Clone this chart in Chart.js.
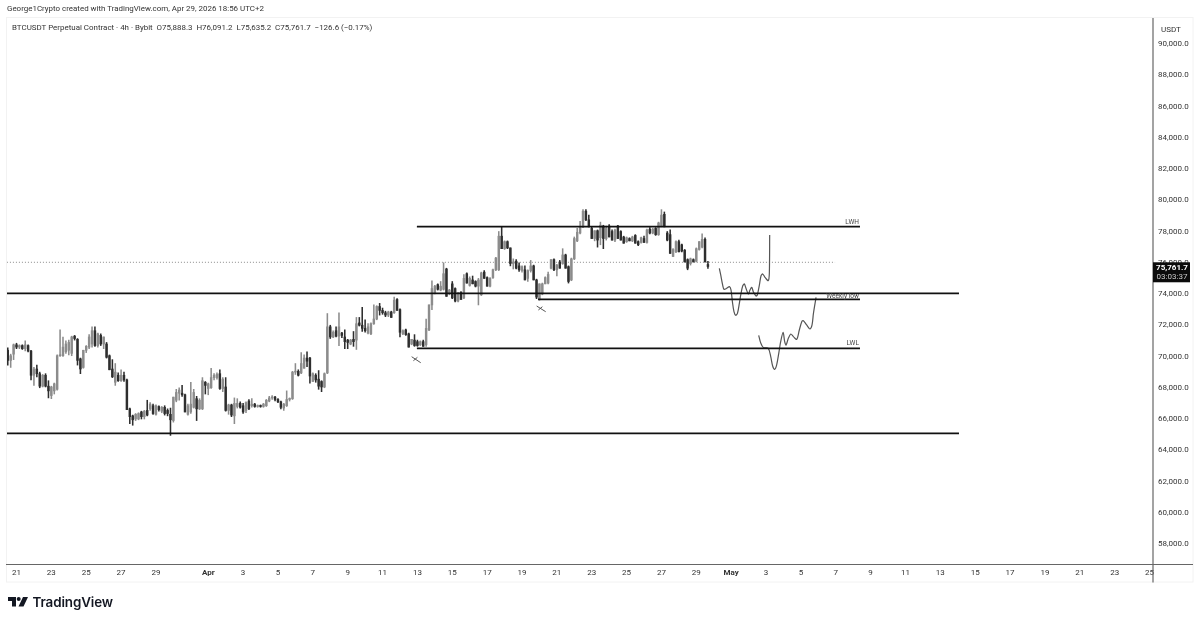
<!DOCTYPE html>
<html>
<head>
<meta charset="utf-8">
<title>BTCUSDT</title>
<script src="https://cdn.jsdelivr.net/npm/chart.js@4"></script>
<style>
html,body{margin:0;padding:0;background:#fff;width:1200px;height:622px;overflow:hidden}
#wrap{position:relative;width:1200px;height:622px;filter:blur(0.35px)}
canvas{position:absolute;left:0;top:0}
.t{position:absolute;white-space:pre;font-family:Roboto,sans-serif;color:#333}
#credit{left:7px;top:4px;font-size:7.95px;line-height:10px}
#ohlc{left:12px;top:22px;font-size:7.95px;line-height:11px}
#brand{left:32.5px;top:592px;font-size:13.4px;line-height:20px;font-family:Inter,sans-serif;font-weight:600;color:#131722;letter-spacing:-.1px}
#logo{position:absolute;left:8px;top:597px}
</style>
</head>
<body>
<div id="wrap">
<canvas id="c" width="1200" height="622"></canvas>
<div class="t" id="credit">George1Crypto created with TradingView.com, Apr 29, 2026 18:56 UTC+2</div>
<div class="t" id="ohlc">BTCUSDT Perpetual Contract · 4h · Bybit  O75,888.3  H76,091.2  L75,635.2  C75,761.7  −126.6 (−0.17%)</div>
<svg id="logo" width="21" height="10" viewBox="0 0 21 10"><path d="M0 0H8V9.5H4V4H0Z M15 0H20L15.5 9.5H10.5Z" fill="#131722"/><circle cx="10.7" cy="2" r="2" fill="#131722"/></svg>
<div class="t" id="brand">TradingView</div>
</div>
<script>
const opens=[
70400,69750,70150,70750,70600,70700,70500,70700,70350,68800,
69200,68900,68100,68800,68100,67500,67800,67900,70050,70050,
70300,70400,70200,71300,71100,69850,69300,70400,70600,70800,
71650,70700,71350,70800,70800,70050,69200,68350,68800,68450,
68800,68500,66650,66200,66000,66000,66450,66150,66550,66650,
66850,66300,66800,66500,66750,66550,66300,65900,67200,67650,
67650,67550,66300,66450,66750,67300,66650,66650,68350,67950,
68000,68650,68650,68900,67950,68050,66550,66900,66200,66800,
67000,66850,66550,67150,66850,66950,66800,66850,66800,66850,
67150,67350,67400,67250,67100,66700,66850,67250,67300,69000,
69050,68950,69250,69900,69900,68400,68800,68550,68400,68050,
68950,71900,71250,71650,71300,71500,71250,71050,70800,71100,
71050,72150,72000,71800,71500,71450,72100,72400,73200,72950,
72800,72650,72850,72800,73650,73000,71450,71700,71450,70800,
71050,70950,70750,70950,70750,71700,73300,74050,74600,74250,
74300,75600,74050,74650,74350,73550,74100,73750,75300,74550,
74900,74800,74500,73950,75400,75050,74500,75050,75550,75550,
77700,76900,77350,76950,75950,76100,75800,75500,75550,75000,
75500,75800,74900,73650,74000,74650,74700,75650,76200,75550,
76050,75950,76500,75750,74900,76250,77400,77900,78300,79300,
78750,78200,77550,78050,77600,78350,77550,78350,78000,77450,
78350,78000,77650,77350,77550,77400,77750,77350,77300,77550,
77300,78150,77900,78200,77800,78350,79100,77900,77800,76400,
76700,77350,77150,76800,76200,75950,76200,76100,76850,77000,
77500,75888.3];
const highs=[
70550,70150,70800,70850,70750,70750,71000,70750,70400,69300,
69450,69000,68850,68900,68450,68100,68300,70100,71700,71250,
71000,71050,71300,71350,71150,69900,70400,70700,71400,71900,
71900,71500,71450,71250,70900,70100,69800,69550,68950,69150,
69000,68550,66700,66250,66350,66400,66500,66550,67200,67050,
66950,66900,66850,66800,66850,66650,66700,67400,67900,68000,
68150,67600,66950,68350,67900,67450,67300,68650,68400,68300,
69250,68900,68950,69150,68650,68650,66950,66950,67350,67300,
67100,67000,67100,67250,67300,67000,66900,66900,67000,67250,
67450,67500,67450,67300,67150,67000,67800,67350,69050,69550,
69150,70250,70100,70300,69950,68950,68900,69100,68450,68950,
72750,72000,71650,71900,72800,71550,71700,71100,71100,71600,
72500,72500,73150,72350,72100,72150,73300,73250,73400,73100,
72900,72900,72900,73800,73700,73050,71700,71750,71500,71100,
71400,71050,71000,71050,72400,73300,74850,74550,74650,74800,
76000,75650,74300,74800,74400,74100,74150,75250,75350,75100,
75150,74850,75000,75400,75500,75100,75050,75600,76350,78000,
78300,77400,77400,76950,76250,76200,76000,75800,75800,75550,
76150,75850,74950,74650,74700,75100,75400,76200,76250,75900,
76150,76900,76550,75800,76300,77650,78200,78650,79400,79400,
79050,78300,78050,78100,78600,78400,78350,78450,78100,78150,
78400,78050,77700,77650,77600,77700,77800,77400,77650,77700,
78150,78250,78200,78250,78600,79400,79250,78000,78100,76900,
77400,77450,77200,76850,76250,76300,76250,76950,77350,77850,
77600,76091.2];
const lows=[
69450,69300,69800,70500,70500,70450,70350,70300,68500,68150,
68700,68000,68050,68050,67350,67300,67600,67850,70000,70000,
70200,70100,70050,71050,69450,68900,69250,70250,70500,70600,
70650,70600,70700,70500,69900,69150,68650,68150,68400,68400,
68400,66600,65700,65600,65900,65950,66000,66000,66200,66550,
66300,66250,66500,66400,66250,66200,64950,65800,67100,67200,
67450,66450,66250,66350,66700,65900,66600,66600,67600,67550,
67950,68500,68550,67900,67750,66500,66300,66150,65700,66700,
66700,66350,66400,66600,66750,66750,66750,66750,66750,66800,
67100,67250,67150,67050,66650,66550,66800,67150,67250,68850,
68750,68900,69250,69350,68300,68400,68350,67900,67750,68000,
68900,71150,71200,71250,70700,71200,70500,70500,70750,70650,
70450,71950,71600,71550,71450,71400,72050,72350,72650,72700,
72550,72550,72500,72750,72950,71250,71400,71350,70600,70750,
70650,70650,70700,70650,70650,71650,73000,74000,74250,74200,
74250,73850,73950,73700,73500,73500,73650,73700,74700,74500,
74650,74450,73300,73900,75000,74500,74450,75000,75500,75500,
76900,76850,76900,75800,75600,75600,75450,75400,74900,74800,
75400,74900,73700,73600,73950,74650,74650,75600,75500,75150,
75650,75900,75650,74700,74850,76200,77350,77850,78250,78700,
78300,77550,77400,77000,77150,76900,77450,77650,77450,77350,
77550,77450,77250,77300,77400,77350,77250,77100,77250,77300,
77250,77850,77850,77750,77750,78300,78300,77400,76600,76400,
76650,76700,76700,76050,75550,75850,76050,76050,76800,76950,
76050,75635.2];
const closes=[
69750,70050,70750,70600,70700,70500,70750,70350,68800,69200,
68900,68100,68800,68100,67800,68050,68250,70050,70100,70600,
70800,70900,71250,71150,69750,69200,70400,70650,71250,71650,
70700,71450,70800,71250,69950,69150,68700,69000,68450,68800,
68500,66600,66150,65950,66300,66350,66150,66500,66250,66950,
66350,66850,66600,66750,66350,66350,65950,67400,67700,67850,
67550,66450,66850,66950,67700,66650,67200,68450,68150,68250,
68650,68800,68850,67950,68550,66550,66900,66250,67000,67000,
66750,66450,67050,66650,66950,66800,66850,66800,66950,67200,
67350,67400,67250,67100,66750,66950,67250,67300,69000,69050,
68800,69550,69900,69700,68750,68900,68500,68100,68050,68900,
71900,71250,71550,71300,71900,71350,70950,70900,71050,70950,
72100,72000,71800,71650,71900,72100,72400,73200,72950,72800,
72650,72850,72500,73600,72950,71550,71650,71400,70600,71100,
70700,70700,70950,70650,71800,73300,74350,74500,74300,74500,
75300,73850,74250,73750,73550,74050,73650,75000,74700,75000,
74650,74500,74900,75350,75000,74500,75000,75550,76300,77700,
76900,77350,76950,75950,76050,75650,75550,75750,74900,75500,
75800,74900,73800,74650,74650,75050,75250,76200,75550,75850,
75650,76500,75650,74800,76250,77550,77950,78300,79300,78750,
78300,77550,78050,77450,78400,77550,78200,77650,77450,78100,
77550,77450,77250,77600,77400,77650,77250,77150,77600,77300,
78100,77900,78150,77800,78550,79050,78300,77450,76600,76850,
77350,76700,76750,76050,75650,76250,76050,76900,77350,77500,
76050,75761.7];

// x axis unit: days since Mar 21 00:00
const lastCandleDay=39.667;
const dateTickDays=[0,2,4,6,8,11,13,15,17,19,21,23,25,27,29,31,33,35,37,39,41,43,45,47,49,51,53,55,57,59,61,63,65];
const dateTickLabels=['21','23','25','27','29','Apr','3','5','7','9','11','13','15','17','19','21','23','25','27','29','May','3','5','7','9','11','13','15','17','19','21','23','25'];
const priceTicks=[58000,60000,62000,64000,66000,68000,70000,72000,74000,76000,78000,80000,82000,84000,86000,88000,90000];

const levelNames=['Upper support','Range low','LWH','Weekly low','LWL'];
const levelPrices=[74040,65085,78310,73660,70525];
const levelFrom=[-0.55,-0.55,22.97,29.92,22.97];
const levelTo=[54.07,54.07,48.39,48.39,48.39];
const lastPriceLine=[76030,-0.55,46.96];
const lastPriceText='75,761.7';
const countdownText='03:03:37';

const sketchADays=[40.32,40.40,40.51,40.59,40.74,40.90,40.99,41.07,41.16,41.26,41.36,41.47,41.55,41.66,41.76,41.85,41.99,42.08,42.18,42.27,42.43,42.50,42.62,42.71,42.81,42.94,43.13,43.19,43.21];
const sketchAPrices=[75643,75217,74577,74300,74363,74470,74257,73510,72870,72635,72763,73404,73937,74513,74641,74363,74001,74257,74427,74150,73873,73937,74577,75153,75281,75067,74854,75323,77776];
const sketchBDays=[42.58,42.69,42.85,43.13,43.27,43.38,43.50,43.61,43.73,43.84,43.98,44.07,44.15,44.28,44.42,44.57,44.76,44.91,45.05,45.14,45.33,45.52,45.64,45.72,45.87];
const sketchBPrices=[71356,70887,70567,70524,69991,69394,69180,69458,70204,70951,71548,70951,70737,71164,71441,71271,71100,71697,72231,72295,72017,71761,72017,72763,73788];
const crossStrokes=[
  [[22.67,69987],[23.19,69603]],
  [[22.77,69731],[23.00,69949]],
  [[29.84,73232],[30.36,72867]],
  [[29.94,72976],[30.17,73187]]
];

const UP='#8c8c8c',DOWN='#2e2e2e';
const n=closes.length;
const candleDay=i=>lastCandleDay-(n-1-i)/6;
const candleColors=closes.map((c,i)=>c>=opens[i]?UP:DOWN);
const wicks=lows.map((l,i)=>({x:candleDay(i),y:[l,highs[i]]}));
const bodies=opens.map((o,i)=>({x:candleDay(i),y:[o,closes[i]]}));

const lineDs=(data,color,width,extra)=>Object.assign({type:'line',data,borderColor:color,borderWidth:width,pointRadius:0,tension:0,order:0,fill:false},extra||{});
const datasets=[
 {type:'bar',label:'wicks',data:wicks,backgroundColor:candleColors,barThickness:0.9,grouped:false,order:3},
 {type:'bar',label:'bodies',data:bodies,backgroundColor:candleColors,barThickness:1.8,minBarLength:1,grouped:false,order:2},
 lineDs([{x:lastPriceLine[1],y:lastPriceLine[0]},{x:lastPriceLine[2],y:lastPriceLine[0]}],'#8a8a8a',1,{borderDash:[1,2],order:4})
];
levelPrices.forEach((p,i)=>datasets.push(lineDs([{x:levelFrom[i],y:p},{x:levelTo[i],y:p}],'#111',1.8,{label:levelNames[i]})));
datasets.push(lineDs(sketchADays.map((d,i)=>({x:d,y:sketchAPrices[i]})),'#555',1.2,{tension:0.3}));
datasets.push(lineDs(sketchBDays.map((d,i)=>({x:d,y:sketchBPrices[i]})),'#555',1.2,{tension:0.3}));
crossStrokes.forEach(s=>datasets.push(lineDs(s.map(p=>({x:p[0],y:p[1]})),'#555',1)));

const decorations={
 id:'decorations',
 afterDraw(chart){
  const {ctx,chartArea:a,scales:{x,y}}=chart;
  ctx.save();
  ctx.strokeStyle='#f2f2f2';ctx.lineWidth=1;
  ctx.strokeRect(6.5,a.top-0.5,1186.5,564.5);
  ctx.strokeStyle='#666';ctx.lineWidth=1.2;
  ctx.beginPath();ctx.moveTo(6,a.bottom+0.5);ctx.lineTo(1193,a.bottom+0.5);ctx.stroke();
  ctx.beginPath();ctx.moveTo(a.right,a.top);ctx.lineTo(a.right,582.5);ctx.stroke();
  ctx.fillStyle='#444';ctx.font='6.6px Roboto,sans-serif';ctx.textAlign='right';ctx.textBaseline='alphabetic';
  ctx.fillText('LWH',x.getPixelForValue(levelTo[2])-1,y.getPixelForValue(levelPrices[2])-3);
  ctx.fillText('Weekly low',x.getPixelForValue(levelTo[3])-1,y.getPixelForValue(levelPrices[3])-1.5);
  ctx.fillText('LWL',x.getPixelForValue(levelTo[4])-1,y.getPixelForValue(levelPrices[4])-3);
  ctx.fillStyle='#333';ctx.font='8px Roboto,sans-serif';ctx.textAlign='left';
  ctx.fillText('USDT',1161,32);
  const top=y.getPixelForValue(lastPriceLine[0]);
  ctx.fillStyle='#0b0b0b';ctx.fillRect(a.right,top,37,20);
  ctx.textAlign='center';ctx.fillStyle='#fff';ctx.font='bold 8px Roboto,sans-serif';
  ctx.fillText(lastPriceText,1172,top+8);
  ctx.fillStyle='#c8c8c8';ctx.font='8px Roboto,sans-serif';
  ctx.fillText(countdownText,1172,top+17);
  ctx.restore();
 }
};

new Chart(document.getElementById('c'),{
 type:'bar',
 data:{datasets},
 plugins:[decorations],
 options:{
  responsive:false,animation:false,
  layout:{padding:{left:6,right:0,top:18,bottom:40}},
  plugins:{legend:{display:false},tooltip:{enabled:false},title:{display:false}},
  scales:{
   x:{type:'linear',offset:false,min:-0.602,max:65.2,
      grid:{display:false,drawTicks:false,tickLength:0},border:{display:false},
      afterBuildTicks(s){s.ticks=dateTickDays.map(value=>({value}));},
      afterFit(s){s.height=18;},
      ticks:{autoSkip:false,maxRotation:0,minRotation:0,padding:4,color:'#333',
        font(c){const l=c.tick&&dateTickLabels[dateTickDays.indexOf(c.tick.value)];
          return {family:'Roboto,sans-serif',size:8,weight:(l==='Apr'||l==='May')?'bold':'normal'};},
        callback(v){return dateTickLabels[dateTickDays.indexOf(v)];}}
   },
   y:{type:'linear',position:'right',min:56720,max:91664,
      grid:{display:false,drawTicks:false,tickLength:0},border:{display:false},
      afterBuildTicks(s){s.ticks=priceTicks.map(value=>({value}));},
      afterFit(s){s.width=47;},
      ticks:{autoSkip:false,padding:5,color:'#333',font:{family:'Roboto,sans-serif',size:8},
        callback(v){return v.toLocaleString('en-US',{minimumFractionDigits:1,maximumFractionDigits:1});}}
   }
  }
 }
});
</script>
</body>
</html>
